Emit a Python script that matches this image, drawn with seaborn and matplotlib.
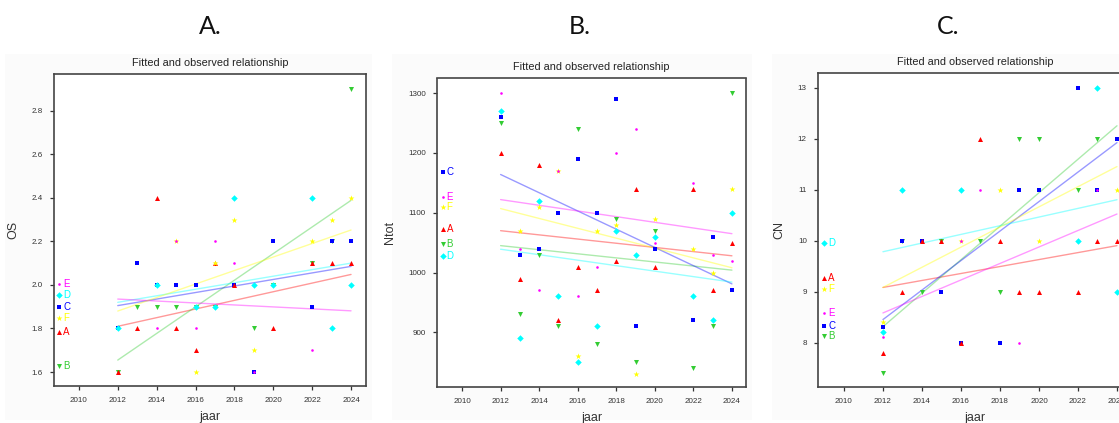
import pandas as pd
import seaborn as sns
import matplotlib.pyplot as plt
from matplotlib.patches import Rectangle

sns.set_style("ticks")
plt.rcParams['font.family'] = ['Liberation Sans', 'DejaVu Sans']

# observation years (no data in 2021)
years = [2012, 2013, 2014, 2015, 2016, 2017, 2018, 2019, 2020, 2022, 2023, 2024]
groups = ['A', 'B', 'C', 'D', 'E', 'F']

# A. OS
os_A = [1.6, 1.8, 2.4, 1.8, 1.7, 2.1, 2.0, None, 1.8, 2.1, 2.1, 2.1]
os_B = [1.6, 1.9, 1.9, 1.9, 1.9, 1.9, None, 1.8, 2.0, 2.1, 2.2, 2.9]
os_C = [1.8, 2.1, 2.0, 2.0, 2.0, None, 2.0, 1.6, 2.2, 1.9, 2.2, 2.2]
os_D = [1.8, None, 2.0, None, 1.9, 1.9, 2.4, 2.0, 2.0, 2.4, 1.8, 2.0]
os_E = [None, None, 1.8, 2.2, 1.8, 2.2, 2.1, 1.6, None, 1.7, None, None]
os_F = [None, None, None, 2.2, 1.6, 2.1, 2.3, 1.7, None, 2.2, 2.3, 2.4]
os_fit_2012 = [1.81, 1.655, 1.905, 1.92, 1.935, 1.88]
os_fit_2024 = [2.048, 2.388, 2.085, 2.10, 1.881, 2.252]

# B. Ntot
nt_A = [1200, 990, 1180, 920, 1010, 970, 1020, 1140, 1010, 1140, 970, 1050]
nt_B = [1250, 930, 1030, 910, 1240, 880, 1090, 850, 1070, 840, 910, 1300]
nt_C = [1260, 1030, 1040, 1100, 1190, 1100, 1290, 910, 1040, 920, 1060, 970]
nt_D = [1270, 890, 1120, 960, 850, 910, 1070, 1030, 1060, 960, 920, 1100]
nt_E = [1300, 1040, 970, 1170, 960, 1010, 1200, 1240, 1050, 1150, 1030, 1020]
nt_F = [None, 1070, 1110, 1170, 860, 1070, 1080, 830, 1090, 1040, 1000, 1140]
nt_fit_2012 = [1070, 1045, 1164, 1039, 1122, 1107]
nt_fit_2024 = [1028, 1004, 981, 984, 1065, 1008]

# C. CN
cn_A = [7.8, 9, 10, 10, 8, 12, 10, 9, 9, 9, 10, 10]
cn_B = [7.4, 10, 9, 10, None, 10, 9, 12, 12, 11, 12, None]
cn_C = [8.3, 10, 10, 9, 8, None, 8, 11, 11, 13, 11, 12]
cn_D = [8.2, 11, None, None, 11, None, None, None, None, 10, 13, 9]
cn_E = [8.1, None, None, None, 10, 11, None, 8, None, None, 11, None]
cn_F = [8.4, None, None, None, 10, None, 11, None, 10, None, None, 11]
cn_fit_2012 = [9.08, 8.31, 8.45, 9.78, 8.58, 9.08]
cn_fit_2024 = [9.9, 12.25, 11.92, 10.8, 10.52, 11.45]

colors = {'A': '#ff0000', 'B': '#33cc33', 'C': '#0000ff',
          'D': '#00ffff', 'E': '#ff00ff', 'F': '#ffff00'}
markers = {'A': '^', 'B': 'v', 'C': 's', 'D': 'D', 'E': 'o', 'F': '*'}
sizes = {'A': 13, 'B': 13, 'C': 12, 'D': 11, 'E': 3.5, 'F': 20}
draw_order = ['B', 'C', 'D', 'A', 'F', 'E']


def make_frames(series, fit_start, fit_end):
    rows = []
    for g, vals in zip(groups, series):
        for yr, v in zip(years, vals):
            if v is not None:
                rows.append((g, yr, v))
    obs = pd.DataFrame(rows, columns=['group', 'jaar', 'value'])
    fit = pd.DataFrame({'group': groups * 2,
                        'jaar': [2012] * 6 + [2024] * 6,
                        'value': fit_start + fit_end})
    return obs, fit


def draw_panel(ax, obs, fit, ylabel, xlim, ylim, yticks, yfmt, legend_y):
    sns.lineplot(data=fit, x='jaar', y='value', hue='group', palette=colors,
                 estimator=None, sort=False, lw=1.0, alpha=0.4, legend=False, ax=ax)
    for g in draw_order:
        sub = obs[obs['group'] == g]
        sns.scatterplot(data=sub, x='jaar', y='value', color=colors[g],
                        marker=markers[g], s=sizes[g], linewidth=0,
                        legend=False, ax=ax, zorder=3)
    # key drawn inside the plot, at the left
    for g, yv in legend_y.items():
        ax.scatter([2009.0], [yv], color=colors[g], marker=markers[g],
                   s=sizes[g], linewidth=0, zorder=3)
        ax.text(2009.2, yv, g, color=colors[g], fontsize=7, va='center', ha='left')
    ax.set_xlim(*xlim)
    ax.set_ylim(*ylim)
    ax.set_xticks(range(2010, 2025, 2))
    ax.set_yticks(yticks)
    ax.set_yticklabels([yfmt.format(t) for t in yticks])
    ax.set_xlabel('jaar', fontsize=9, color='#333333', labelpad=5)
    ax.set_ylabel(ylabel, fontsize=9, color='#333333', labelpad=9)
    ax.set_title('Fitted and observed relationship', fontsize=7.8,
                 color='#222222', pad=6)
    ax.tick_params(direction='out', length=3, width=0.9, colors='#333333',
                   labelsize=5.8, pad=5)
    for sp in ax.spines.values():
        sp.set_visible(True)
        sp.set_color('#444444')
        sp.set_linewidth(1.2)
    ax.set_facecolor('#ffffff')


fig = plt.figure(figsize=(11.19, 4.23), dpi=100)
W, H = 1119, 423

# faint panel backgrounds, kept behind the axes
for x0, x1 in [(5, 372), (392, 752), (772, 1119)]:
    bg = Rectangle((x0 / W, 1 - 420 / H), (x1 - x0) / W, (420 - 54) / H,
                   transform=fig.transFigure, facecolor='#fbfbfb',
                   edgecolor='none', zorder=-10)
    fig.add_artist(bg)

axA = fig.add_axes([54 / W, 1 - 386 / H, 312 / W, 312 / H])
axB = fig.add_axes([437 / W, 1 - 387 / H, 309 / W, 308.5 / H])
axC = fig.add_axes([818 / W, 1 - 387 / H, 314 / W, 313.5 / H])

obs, fit = make_frames([os_A, os_B, os_C, os_D, os_E, os_F], os_fit_2012, os_fit_2024)
draw_panel(axA, obs, fit, 'OS', (2008.72, 2024.77), (1.536, 2.968),
           [1.6, 1.8, 2.0, 2.2, 2.4, 2.6, 2.8], '{:.1f}',
           {'E': 2.005, 'D': 1.953, 'C': 1.9, 'F': 1.85, 'A': 1.785, 'B': 1.626})

obs, fit = make_frames([nt_A, nt_B, nt_C, nt_D, nt_E, nt_F], nt_fit_2012, nt_fit_2024)
draw_panel(axB, obs, fit, 'Ntot', (2008.70, 2024.73), (808.5, 1324.6),
           [900, 1000, 1100, 1200, 1300], '{:d}',
           {'C': 1168, 'E': 1127, 'F': 1109, 'A': 1072, 'B': 1047, 'D': 1028})

obs, fit = make_frames([cn_A, cn_B, cn_C, cn_D, cn_E, cn_F], cn_fit_2012, cn_fit_2024)
draw_panel(axC, obs, fit, 'CN', (2008.67, 2024.77), (7.128, 13.275),
           [8, 9, 10, 11, 12, 13], '{:d}',
           {'D': 9.95, 'A': 9.27, 'F': 9.05, 'E': 8.57, 'C': 8.33, 'B': 8.12})

# panel letters
for xc, letter in [(210, 'A.'), (580, 'B.'), (948, 'C.')]:
    fig.text(xc / W, 1 - 27 / H, letter, fontsize=18, ha='center', va='center',
             family=['Lato', 'DejaVu Sans'], color='#111111')

fig.savefig('out.png', dpi=100)
plt.close(fig)
